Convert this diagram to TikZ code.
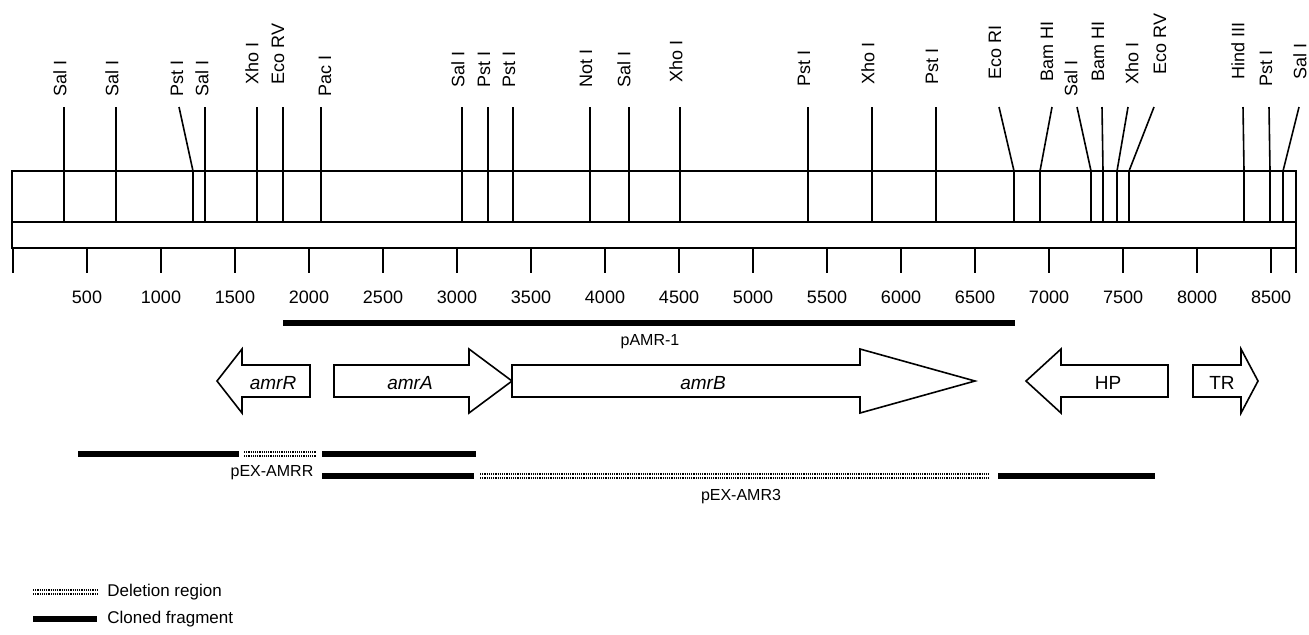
\documentclass[tikz,border=0pt]{standalone}
\usepackage{fontspec}
\setmainfont{Liberation Sans}
\usetikzlibrary{positioning, calc}

\begin{document}
\begin{tikzpicture}[
    x=0.5pt, y=-0.5pt,
    site/.style={rotate=90, anchor=west, inner sep=0pt, font=\fontsize{9}{10}\selectfont},
    num/.style={inner sep=0pt, font=\fontsize{9}{10}\selectfont},
    gene/.style={draw, line width=0.8pt, fill=white, line join=miter},
    genelbl/.style={inner sep=0pt, font=\fontsize{9.5}{11}\selectfont},
    cloned/.style={line width=3.2pt},
    deletion/.style={double, double distance=1.2pt, line width=0.7pt, dash pattern=on 0.6pt off 0.5pt},
    barlbl/.style={inner sep=0pt, font=\fontsize{8}{9}\selectfont}
]
\useasboundingbox[fill=white] (0,0) rectangle (1309,634);

% Mapa
\draw[line width=0.8pt] (12,171) rectangle (1296,248);
\draw[line width=0.8pt] (12,222) -- (1296,222);

% Escala
\foreach \k in {0,...,17} {
    \draw[line width=0.8pt] ({13+74*\k},248) -- ({13+74*\k},273);
}
\draw[line width=0.8pt] (1296,248) -- (1296,273);
\foreach \k [evaluate=\k as \bp using int(500*\k)] in {1,...,17} {
    \node[num] (t\k) at ({13+74*\k},297) {\bp};
}

% Sitios de restriccion
\foreach \i/\bx/\tx/\lx/\ly/\nm in {
    1/64/64/60/97/Sal I, 2/116/116/112/97/Sal I, 3/193/179/177/97/Pst I,
    4/205/205/202/97/Sal I, 5/257/257/252/85/Xho I, 6/283/283/278/85/Eco RV,
    7/321/321/325/97/Pac I, 8/462/462/458/88/Sal I, 9/488/488/484/88/Pst I,
    10/513/513/509/88/Pst I, 11/590/590/586/88/Not I, 12/629/629/624/88/Sal I,
    13/680/680/676/83/Xho I, 14/808/808/804/87/Pst I, 15/872/872/868/85/Xho I,
    16/936/936/932/85/Pst I, 17/1014/999/995/80/Eco RI, 18/1040/1052/1047/82/Bam HI,
    19/1091/1077/1071/97/Sal I, 20/1103/1102/1098/82/Bam HI, 21/1117/1128/1132/85/Xho I,
    22/1129/1154/1160/75/Eco RV, 23/1244/1243/1238/80/Hind III, 24/1270/1269/1266/87/Pst I,
    25/1283/1299/1300/80/Sal I} {
    \draw[line width=0.8pt] (\tx,107) -- (\bx,171) -- (\bx,222);
    \node[site] (s\i) at (\lx,\ly) {\nm};
}

% pAMR-1
\draw[cloned] (283,323) -- (1015,323);
\node[barlbl] (pamr) at (650,342) {pAMR-1};

% Genes
\draw[gene] (217,381) -- (242,349) -- (242,365) -- (310,365) -- (310,397) -- (242,397) -- (242,413) -- cycle;
\node[genelbl] (amrR) at (273,383) {\textit{amrR}};
\draw[gene] (334,365) -- (469,365) -- (469,349) -- (512,381) -- (469,413) -- (469,397) -- (334,397) -- cycle;
\node[genelbl] (amrA) at (410,383) {\textit{amrA}};
\draw[gene] (512,365) -- (860,365) -- (860,349) -- (975,381) -- (860,413) -- (860,397) -- (512,397) -- cycle;
\node[genelbl] (amrB) at (703,383) {\textit{amrB}};
\draw[gene] (1026,381) -- (1061,349) -- (1061,365) -- (1168,365) -- (1168,397) -- (1061,397) -- (1061,413) -- cycle;
\node[genelbl] (hp) at (1108,383) {HP};
\draw[gene] (1193,365) -- (1241,365) -- (1241,349) -- (1258,381) -- (1241,413) -- (1241,397) -- (1193,397) -- cycle;
\node[genelbl] (tr) at (1222,383) {TR};

% pEX-AMRR
\draw[cloned] (78,454) -- (239,454);
\draw[deletion] (244,454) -- (316,454);
\draw[cloned] (322,454) -- (476,454);
\node[barlbl] (pexr) at (272,473) {pEX-AMRR};

% pEX-AMR3
\draw[cloned] (322,476) -- (474,476);
\draw[deletion] (480,476) -- (990,476);
\draw[cloned] (998,476) -- (1155,476);
\node[barlbl] (pex3) at (741,497) {pEX-AMR3};

% Leyenda
\draw[deletion] (33,592) -- (97,592);
\node[barlbl, anchor=west, font=\fontsize{8.5}{10}\selectfont] (ldel) at (107,592) {Deletion region};
\draw[cloned] (33,619) -- (97,619);
\node[barlbl, anchor=west, font=\fontsize{8.5}{10}\selectfont] (lclo) at (107,619) {Cloned fragment};

\end{tikzpicture}
\end{document}
